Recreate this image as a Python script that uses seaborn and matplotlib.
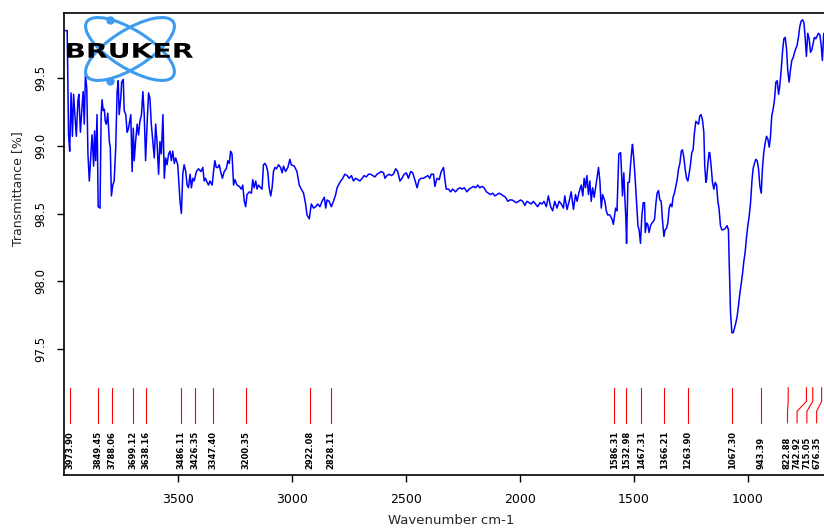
import numpy as np
import pandas as pd
import seaborn as sns
import matplotlib
matplotlib.use("Agg")
import matplotlib.pyplot as plt
from matplotlib.patches import Ellipse, PathPatch
from matplotlib.textpath import TextPath
from matplotlib.font_manager import FontProperties
from matplotlib.transforms import Affine2D

# IR spectrum (wavenumber cm-1, transmittance %)
wn_high = [
    3999, 3986, 3980, 3975, 3969, 3963, 3958, 3952, 3946, 3939,
    3935, 3928, 3922, 3916, 3911, 3906, 3900, 3895, 3889, 3883,
    3877, 3870, 3866, 3861, 3855, 3850, 3842, 3837, 3833, 3828,
    3823, 3819, 3814, 3808, 3801, 3797, 3792, 3786, 3780, 3773,
    3767, 3762, 3758, 3751, 3747, 3740, 3736, 3729, 3723, 3718,
    3714, 3707, 3701, 3696, 3692, 3686, 3679, 3673, 3667, 3660,
    3654, 3648, 3642, 3635, 3629, 3623, 3617, 3610, 3604, 3598,
    3592, 3585, 3579, 3573, 3566, 3560, 3554, 3548, 3541, 3535,
    3529, 3523, 3516, 3510, 3501, 3491, 3485, 3479, 3473, 3466,
    3460, 3454, 3447, 3441, 3435, 3429, 3419, 3410, 3399, 3391,
    3385, 3379, 3372, 3366, 3360, 3350, 3344, 3338, 3332, 3325,
    3319, 3313, 3305, 3297, 3288, 3281, 3275, 3269, 3263, 3256,
    3250, 3241, 3231, 3222, 3216, 3209, 3203, 3197, 3187, 3178,
    3172, 3166, 3159, 3153, 3147, 3137, 3131, 3125, 3118, 3112,
    3106, 3100, 3093, 3087, 3081, 3075, 3068, 3059, 3050, 3043,
    3037, 3028, 3018, 3009, 3003, 2990, 2978, 2968, 2959, 2949,
    2940, 2934, 2924, 2915, 2905, 2896, 2887, 2877, 2868, 2858,
    2852, 2846, 2837, 2827, 2818, 2808, 2802, 2796, 2786, 2777,
    2768, 2758, 2749, 2739, 2730, 2721, 2711, 2702, 2692, 2683,
    2674, 2664, 2655, 2645, 2636, 2627, 2617, 2608, 2598, 2592,
    2583, 2573, 2564, 2555, 2545, 2536, 2526, 2517, 2508, 2498,
    2489, 2479, 2470, 2461, 2451, 2442, 2432, 2423, 2414, 2404,
    2395, 2389, 2379, 2373, 2364, 2354, 2345, 2335, 2329, 2323,
    2313, 2304, 2295, 2282, 2273, 2263, 2254, 2244, 2232, 2223,
    2213, 2204, 2194, 2185, 2176, 2166, 2157, 2147, 2138, 2129,
    2119, 2110, 2100, 2091, 2081, 2072, 2063, 2053, 2044, 2034,
    2025, 2016, 2006, 1997, 1988, 1978, 1969, 1959, 1950, 1941,
    1931, 1922, 1912, 1903, 1894, 1884, 1875, 1865, 1856, 1847,
    1837, 1828, 1818, 1809, 1803, 1793, 1784, 1775, 1765, 1756,
    1749, 1740, 1731, 1724, 1718, 1712, 1706, 1699, 1693, 1687,
    1681, 1674, 1668, 1662, 1655, 1649, 1643, 1637, 1627, 1621,
    1615, 1606, 1596, 1590, 1580, 1574, 1566,
]
tr_high = [
    99.85, 99.85, 99.08, 98.96, 99.39, 99.07, 99.38, 99.23, 99.07, 99.33,
    99.38, 99.10, 99.26, 99.40, 99.16, 99.53, 99.42, 98.94, 98.74, 98.91,
    99.08, 98.85, 99.11, 98.89, 99.23, 98.55, 98.54, 99.23, 99.34, 99.26,
    99.27, 99.18, 99.16, 99.24, 99.03, 98.99, 98.63, 98.71, 98.74, 98.99,
    99.40, 99.48, 99.23, 99.35, 99.47, 99.49, 99.26, 99.23, 99.10, 99.12,
    99.16, 99.23, 98.81, 99.13, 98.89, 99.03, 99.16, 99.08, 99.18, 99.23,
    99.40, 99.23, 98.89, 99.18, 99.39, 99.35, 99.16, 99.03, 98.91, 99.16,
    99.03, 98.79, 99.03, 98.94, 99.23, 98.76, 98.91, 98.86, 98.94, 98.96,
    98.89, 98.96, 98.87, 98.91, 98.86, 98.59, 98.50, 98.79, 98.86, 98.81,
    98.71, 98.69, 98.79, 98.69, 98.76, 98.74, 98.81, 98.83, 98.81, 98.84,
    98.74, 98.76, 98.73, 98.71, 98.74, 98.71, 98.81, 98.89, 98.84, 98.84,
    98.86, 98.81, 98.76, 98.81, 98.83, 98.89, 98.87, 98.96, 98.94, 98.71,
    98.75, 98.71, 98.70, 98.68, 98.71, 98.59, 98.55, 98.64, 98.66, 98.65,
    98.75, 98.69, 98.74, 98.68, 98.71, 98.69, 98.68, 98.86, 98.87, 98.85,
    98.81, 98.69, 98.63, 98.69, 98.81, 98.84, 98.83, 98.86, 98.84, 98.80,
    98.85, 98.81, 98.84, 98.90, 98.86, 98.85, 98.81, 98.71, 98.68, 98.65,
    98.57, 98.49, 98.46, 98.57, 98.54, 98.55, 98.57, 98.55, 98.59, 98.62,
    98.54, 98.60, 98.59, 98.55, 98.59, 98.64, 98.69, 98.71, 98.74, 98.76,
    98.79, 98.78, 98.76, 98.78, 98.74, 98.76, 98.75, 98.74, 98.76, 98.78,
    98.77, 98.79, 98.79, 98.78, 98.77, 98.79, 98.80, 98.81, 98.80, 98.76,
    98.78, 98.79, 98.78, 98.79, 98.83, 98.81, 98.74, 98.76, 98.79, 98.80,
    98.76, 98.81, 98.80, 98.75, 98.69, 98.75, 98.76, 98.76, 98.77, 98.78,
    98.76, 98.79, 98.79, 98.70, 98.76, 98.75, 98.81, 98.84, 98.75, 98.68,
    98.68, 98.66, 98.68, 98.66, 98.68, 98.69, 98.68, 98.69, 98.66, 98.68,
    98.69, 98.70, 98.69, 98.71, 98.69, 98.70, 98.69, 98.66, 98.65, 98.64,
    98.65, 98.63, 98.64, 98.65, 98.64, 98.63, 98.62, 98.59, 98.60, 98.60,
    98.59, 98.58, 98.59, 98.60, 98.59, 98.56, 98.59, 98.58, 98.57, 98.59,
    98.57, 98.55, 98.58, 98.57, 98.59, 98.55, 98.63, 98.55, 98.52, 98.59,
    98.54, 98.59, 98.57, 98.54, 98.63, 98.53, 98.59, 98.66, 98.53, 98.64,
    98.59, 98.66, 98.71, 98.63, 98.76, 98.69, 98.78, 98.64, 98.74, 98.59,
    98.69, 98.62, 98.69, 98.76, 98.84, 98.74, 98.54, 98.64, 98.59, 98.52,
    98.49, 98.49, 98.46, 98.42, 98.54, 98.52, 98.94,
]
wn_low = [
    1558, 1554, 1550, 1544, 1539, 1535, 1532, 1526, 1520, 1515,
    1509, 1506, 1500, 1494, 1488, 1482, 1477, 1471, 1465, 1459,
    1453, 1450, 1444, 1439, 1433, 1427, 1421, 1415, 1409, 1403,
    1398, 1392, 1386, 1380, 1374, 1368, 1363, 1357, 1351, 1345,
    1339, 1333, 1328, 1322, 1316, 1310, 1304, 1298, 1292, 1287,
    1281, 1275, 1269, 1263, 1257, 1251, 1246, 1240, 1234, 1228,
    1222, 1216, 1211, 1205, 1199, 1193, 1189, 1184, 1181, 1175,
    1170, 1167, 1161, 1155, 1149, 1143, 1137, 1132, 1126, 1120,
    1114, 1108, 1099, 1091, 1085, 1082, 1076, 1070, 1064, 1058,
    1053, 1047, 1041, 1035, 1029, 1023, 1018, 1012, 1006, 1000,
    994, 988, 982, 977, 971, 965, 959, 953, 947, 941,
    936, 930, 924, 918, 912, 906, 901, 895, 889, 883,
    877, 871, 865, 860, 854, 848, 842, 836, 830, 825,
    819, 813, 807, 801, 795, 789, 784, 778, 772, 766,
    760, 754, 749, 743, 737, 731, 725, 719, 713, 708,
    702, 696, 690, 684, 678, 673, 667,
]
tr_low = [
    98.95, 98.80, 98.63, 98.80, 98.60, 98.46, 98.28, 98.73, 98.73, 98.85,
    98.97, 99.01, 98.90, 98.75, 98.58, 98.41, 98.38, 98.28, 98.48, 98.58,
    98.58, 98.36, 98.43, 98.42, 98.36, 98.41, 98.43, 98.44, 98.46, 98.58,
    98.65, 98.67, 98.60, 98.59, 98.44, 98.33, 98.38, 98.39, 98.43, 98.54,
    98.57, 98.55, 98.62, 98.65, 98.70, 98.75, 98.83, 98.87, 98.96, 98.97,
    98.92, 98.83, 98.76, 98.74, 98.80, 98.87, 98.95, 98.97, 99.10, 99.18,
    99.17, 99.16, 99.22, 99.23, 99.19, 99.10, 98.85, 98.73, 98.75, 98.87,
    98.95, 98.95, 98.85, 98.73, 98.68, 98.73, 98.71, 98.60, 98.53, 98.41,
    98.38, 98.38, 98.39, 98.41, 98.38, 98.16, 97.77, 97.62, 97.62, 97.66,
    97.69, 97.74, 97.82, 97.91, 97.98, 98.06, 98.14, 98.21, 98.32, 98.41,
    98.48, 98.58, 98.74, 98.83, 98.87, 98.90, 98.89, 98.83, 98.70, 98.65,
    98.83, 98.95, 99.02, 99.07, 99.05, 98.99, 99.06, 99.22, 99.27, 99.34,
    99.47, 99.48, 99.38, 99.44, 99.55, 99.69, 99.79, 99.80, 99.71, 99.56,
    99.47, 99.56, 99.63, 99.65, 99.69, 99.72, 99.74, 99.80, 99.88, 99.92,
    99.93, 99.91, 99.81, 99.66, 99.83, 99.79, 99.69, 99.71, 99.76, 99.80,
    99.79, 99.81, 99.83, 99.82, 99.74, 99.63, 99.83,
]

# picked peaks; label_at moves crowded labels sideways
peaks = [3973.90, 3849.45, 3788.06, 3699.12, 3638.16, 3486.11, 3426.35,
         3347.40, 3200.35, 2922.08, 2828.11, 1586.31, 1532.98, 1467.31,
         1366.21, 1263.90, 1067.30, 943.39, 822.88, 742.92, 715.05, 676.35]
label_at = {822.88: 826.0, 742.92: 784.0, 715.05: 741.0, 676.35: 698.0}

x_ticks = [3500, 3000, 2500, 2000, 1500, 1000]
y_ticks = [97.5, 98.0, 98.5, 99.0, 99.5]

spectrum = pd.DataFrame({
    "wavenumber": wn_high + wn_low,
    "transmittance": tr_high + tr_low,
})

sns.set_theme(style="ticks")
plt.rcParams["font.family"] = ["DejaVu Sans"]

fig = plt.figure(figsize=(8.24, 5.30), dpi=100)
ax = fig.add_axes([64 / 824, 55 / 530, 775 / 824, 462 / 530])

sns.lineplot(data=spectrum, x="wavenumber", y="transmittance", sort=False,
             estimator=None, color="#0000ff", linewidth=1.1, ax=ax)

# peak markers: red stubs with the value written underneath
line_top, bend1, bend2, line_bot, text_y = 97.215, 97.114, 97.04, 96.954, 96.617
for p in peaks:
    lx = label_at.get(p, p)
    ax.plot([p, p, lx, lx], [line_top, bend1, bend2, line_bot],
            color="#ff0000", linewidth=0.8)
    ax.text(lx, text_y, f"{p:.2f}", rotation=90, ha="center", va="bottom",
            fontsize=6, fontweight="bold", color="black")

ax.set_xlim(4000, 600)
ax.set_ylim(96.57, 99.98)
ax.set_xticks(x_ticks)
ax.set_xticklabels([str(t) for t in x_ticks])
ax.set_yticks(y_ticks)
ax.set_yticklabels([f"{t:.1f}" for t in y_ticks])
ax.tick_params(axis="x", direction="out", length=5, width=1, pad=8,
               labelsize=9, colors="black")
ax.tick_params(axis="y", direction="out", length=5, width=1, pad=7,
               labelsize=8.5, labelrotation=90, colors="black")
for lab in ax.get_yticklabels():
    lab.set_va("center")

ax.set_xlabel("Wavenumber cm-1", fontsize=9.5)
ax.set_ylabel("Transmittance [%]", fontsize=9)
ax.xaxis.set_label_coords(0.5, -0.084)
ax.yaxis.set_label_coords(-0.052, 0.619)

for side in ["left", "bottom", "top"]:
    ax.spines[side].set_color("black")
    ax.spines[side].set_linewidth(1.2)
ax.spines["right"].set_visible(False)
ax.grid(False)

# Bruker logo in pixel coordinates
logo = fig.add_axes([60 / 824, 1 - 95 / 530, 140 / 824, 85 / 530])
logo.set_xlim(60, 200)
logo.set_ylim(95, 10)
logo.axis("off")
logo.patch.set_alpha(0)
for ang in (32, -32):
    logo.add_patch(Ellipse((130, 49), width=102, height=38, angle=ang,
                           fill=False, edgecolor="#3d9cf0", linewidth=2.2))
logo.plot([110, 110], [20, 80.5], "o", color="#3d9cf0", markersize=5)

# wide, stretched wordmark
word = TextPath((0, 0), "BRUKER", size=10,
                prop=FontProperties(family="DejaVu Sans", weight="heavy"))
ext = word.get_extents()
sx = 126 / ext.width
sy = 15 / ext.height
tf = Affine2D().translate(-ext.x0, -ext.y0).scale(sx, -sy).translate(67, 58)
logo.add_patch(PathPatch(tf.transform_path(word), facecolor="black",
                         edgecolor="none"))

fig.savefig("out.png", dpi=100)
